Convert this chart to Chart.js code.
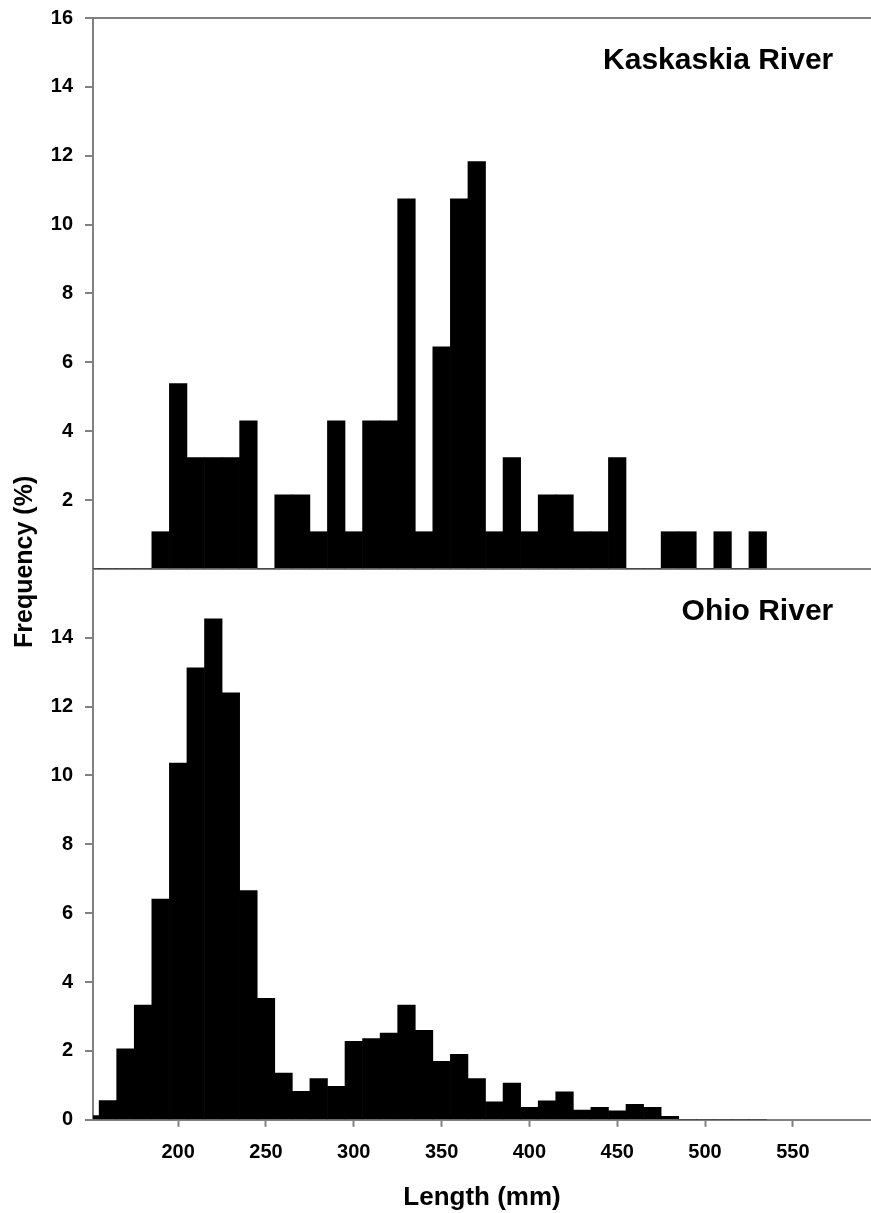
<!DOCTYPE html>
<html>
<head>
<meta charset="utf-8">
<script src="https://cdn.jsdelivr.net/npm/chart.js@4.4.1/dist/chart.umd.min.js"></script>
<style>
  html, body { margin: 0; padding: 0; background: #ffffff; }
  #wrap { position: relative; width: 871px; height: 1213px; }
</style>
</head>
<body>
<div id="wrap"><canvas id="chartLength"></canvas></div>
<script>
// 10 mm length classes (class midpoints)
const binCenters = [150, 160, 170, 180, 190, 200, 210, 220, 230, 240,
                    250, 260, 270, 280, 290, 300, 310, 320, 330, 340,
                    350, 360, 370, 380, 390, 400, 410, 420, 430, 440,
                    450, 460, 470, 480, 490, 500, 510, 520, 530];

// frequency (%) per class
const kaskaskia = [0, 0, 0, 0, 1.08, 5.38, 3.23, 3.23, 3.23, 4.30,
                   0, 2.15, 2.15, 1.08, 4.30, 1.08, 4.30, 4.30, 10.75, 1.08,
                   6.45, 10.75, 11.83, 1.08, 3.23, 1.08, 2.15, 2.15, 1.08, 1.08,
                   3.23, 0, 0, 1.08, 1.08, 0, 1.08, 0, 1.08];

const ohio = [0.12, 0.56, 2.06, 3.33, 6.41, 10.36, 13.13, 14.55, 12.40, 6.66,
              3.53, 1.36, 0.83, 1.20, 0.97, 2.28, 2.36, 2.52, 3.33, 2.60,
              1.70, 1.90, 1.20, 0.52, 1.07, 0.36, 0.55, 0.81, 0.28, 0.36,
              0.26, 0.45, 0.36, 0.10, 0, 0, 0, 0, 0];

const xTicks = [200, 250, 300, 350, 400, 450, 500, 550];
const yTicks = [0, 2, 4, 6, 8, 10, 12, 14, 16];
const panelNames = ['Kaskaskia River', 'Ohio River'];

const grey = '#808080';
const family = '"Liberation Sans", Arial, sans-serif';

// panel names and the shared y title
const extraText = {
  id: 'extraText',
  afterDraw(chart) {
    const c = chart.ctx;
    const area = chart.chartArea;
    const x = chart.scales.x;
    c.save();
    c.fillStyle = '#000000';
    c.font = 'bold 30px ' + family;
    c.textAlign = 'right';
    c.textBaseline = 'middle';
    c.fillText(panelNames[0], x.getPixelForValue(573), chart.scales.yTop.getPixelForValue(14.75));
    c.fillText(panelNames[1], x.getPixelForValue(573), chart.scales.yBot.getPixelForValue(14.75));
    c.translate(25, (area.top + area.bottom) / 2 - 7);
    c.rotate(-Math.PI / 2);
    c.textAlign = 'center';
    c.font = 'bold 25px ' + family;
    c.fillText('Frequency (%)', 0, 0);
    c.restore();
  }
};

function yAxis(weight, hiddenValue) {
  return {
    type: 'linear',
    position: 'left',
    stack: 'panels',
    stackWeight: 1,
    weight: weight,
    min: 0,
    max: 16,
    afterFit: function (s) {
      s.width = 93;
      s.paddingTop = 0;
      s.paddingBottom = 0;
    },
    afterBuildTicks: function (s) { s.ticks = yTicks.map(v => ({ value: v })); },
    ticks: {
      color: '#000000',
      font: { family: family, size: 20, weight: 'bold' },
      padding: 12,
      callback: v => (v === hiddenValue ? '' : v)
    },
    grid: {
      color: ctx => (ctx.tick && (ctx.tick.value === 0 || ctx.tick.value === 16) ? grey : 'rgba(0,0,0,0)'),
      lineWidth: 2,
      tickLength: 8,
      tickWidth: 2,
      tickColor: ctx => (ctx.tick && ctx.tick.value === hiddenValue ? 'rgba(0,0,0,0)' : grey)
    },
    border: { color: grey, width: 2 }
  };
}

document.addEventListener('DOMContentLoaded', function () {
  const ctx = document.getElementById('chartLength').getContext('2d');

  new Chart(ctx, {
    type: 'bar',
    data: {
      datasets: [{
        label: panelNames[0],
        data: binCenters.map((v, i) => ({ x: v, y: kaskaskia[i] })),
        yAxisID: 'yTop',
        backgroundColor: '#000000',
        borderWidth: 0,
        grouped: false,
        barPercentage: 1,
        categoryPercentage: 1
      }, {
        label: panelNames[1],
        data: binCenters.map((v, i) => ({ x: v, y: ohio[i] })),
        yAxisID: 'yBot',
        backgroundColor: '#000000',
        borderWidth: 0,
        grouped: false,
        barPercentage: 1,
        categoryPercentage: 1
      }]
    },
    options: {
      responsive: true,
      maintainAspectRatio: false,
      animation: false,
      layout: { padding: { top: 18, right: 0, bottom: 0, left: 0 } },
      plugins: {
        legend: { display: false },
        tooltip: { enabled: false }
      },
      scales: {
        x: {
          type: 'linear',
          min: 151.5,
          max: 594.5,
          offset: false,
          afterBuildTicks: function (s) { s.ticks = xTicks.map(v => ({ value: v })); },
          ticks: {
            color: '#000000',
            font: { family: family, size: 20, weight: 'bold' },
            padding: 14,
            maxRotation: 0,
            autoSkip: false
          },
          grid: { offset: false, drawOnChartArea: false, tickLength: 7, tickWidth: 2, tickColor: grey },
          border: { color: grey, width: 2 },
          title: {
            display: true,
            text: 'Length (mm)',
            color: '#000000',
            font: { family: family, size: 26, weight: 'bold' },
            padding: { top: 3, bottom: 0 }
          }
        },
        yTop: yAxis(2, 0),
        yBot: yAxis(1, 16)
      }
    },
    plugins: [extraText]
  });
});
</script>
</body>
</html>
